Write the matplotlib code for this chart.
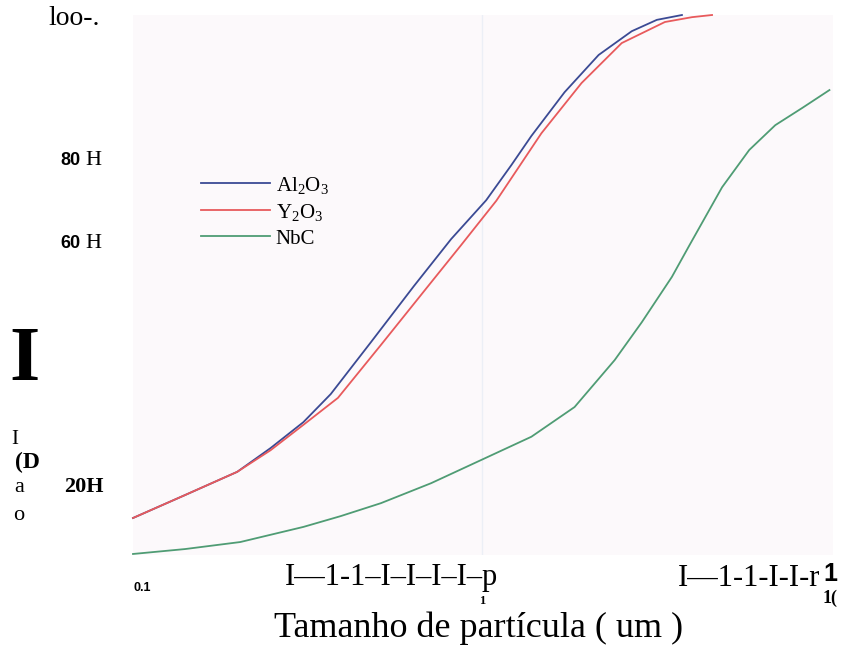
import numpy as np
import matplotlib
matplotlib.use('Agg')
import matplotlib.pyplot as plt
import matplotlib.transforms as mtransforms

# particle size (um) and cumulative percentage
al2o3_x = [0.1, 0.141, 0.199, 0.248, 0.308, 0.369, 0.481, 0.639, 0.817, 1.03,
           1.216, 1.388, 1.728, 2.164, 2.693, 3.178, 3.751]
al2o3_y = [6.85, 11.1, 15.4, 19.8, 24.6, 29.8, 39.4, 49.8, 58.5, 65.7,
           72.2, 77.6, 85.7, 92.6, 97.0, 99.1, 100]

y2o3_x = [0.1, 0.141, 0.199, 0.248, 0.308, 0.387, 0.514, 0.692, 0.873, 1.101,
          1.483, 1.933, 2.520, 3.351, 4.009, 4.576]
y2o3_y = [6.85, 11.1, 15.4, 19.4, 24.1, 29.1, 38.9, 49.3, 57.4, 65.6,
          78.1, 87.4, 94.8, 98.7, 99.6, 100]

nbc_x = [0.1, 0.141, 0.203, 0.308, 0.394, 0.514, 0.716, 0.997, 1.388, 1.846,
         2.406, 2.877, 3.510, 3.929, 4.889, 5.849, 6.947, 8.307, 9.934]
nbc_y = [0.19, 1.1, 2.4, 5.2, 7.2, 9.6, 13.3, 17.6, 21.9, 27.4,
         36.1, 43.1, 51.5, 57.2, 68.1, 75.0, 79.6, 82.8, 86.1]

series_names = ['Al$_2$O$_3$', 'Y$_2$O$_3$', 'NbC']
series_colors = ['#3b4a94', '#e85a5c', '#4f9c74']

ytick_vals = [100, 73, 57.6, 12.6]
ytick_nums = ['', '80', '60', '']
ytick_tail = ['loo-.', 'H', 'H', '20H']

plt.rcParams['font.family'] = ['Liberation Serif', 'DejaVu Serif']
plt.rcParams['mathtext.fontset'] = 'custom'
plt.rcParams['mathtext.rm'] = 'Liberation Serif'
plt.rcParams['mathtext.it'] = 'Liberation Serif'

fig = plt.figure(figsize=(8.45, 6.51), dpi=100)
W, H = 845, 651
ax = fig.add_axes([133 / W, (H - 555) / H, 700 / W, 540 / H])
ax.set_facecolor('#fcf9fb')

ax.axvline(1, color='#eceff6', lw=1.0, zorder=0)

for xs, ys, name, c in zip([al2o3_x, y2o3_x, nbc_x], [al2o3_y, y2o3_y, nbc_y],
                           series_names, series_colors):
    ax.plot(xs, ys, color=c, lw=1.3, label=name, clip_on=False,
            solid_joinstyle='round')

ax.set_xscale('log')
ax.set_xlim(0.1, 10.17)
ax.set_ylim(0, 100)
ax.set_xticks([])
ax.set_yticks([])
ax.minorticks_off()
for s in ax.spines.values():
    s.set_visible(False)

leg = ax.legend(loc='upper left', bbox_to_anchor=(0.085, 0.72), frameon=False,
                fontsize=15, handlelength=3.3, handletextpad=0.3, labelspacing=0.3,
                borderaxespad=0)

# y tick labels (as printed in the scan)
ytr = mtransforms.blended_transform_factory(fig.transFigure, ax.transData)
for v, num, tail in zip(ytick_vals, ytick_nums, ytick_tail):
    if num:
        fig.text(81 / W, v, num, transform=ytr, fontsize=13, fontweight='bold',
                 family='Liberation Sans', ha='right', va='center')
        fig.text(85 / W, v, tail, transform=ytr, fontsize=16, ha='left', va='center')
    elif v > 50:
        fig.text(48 / W, v - 0.6, tail, transform=ytr, fontsize=20, ha='left', va='center')
    else:
        fig.text(104 / W, v, tail, transform=ytr, fontsize=16, fontweight='bold',
                 ha='right', va='center')

# garbled y label
fig.text(25 / W, 1 - 362 / H, 'I', fontsize=56, fontweight='bold', ha='center', va='center')
fig.text(15 / W, 1 - 440 / H, 'I', fontsize=15, ha='center', va='center')
fig.text(27 / W, 1 - 462 / H, '(D', fontsize=17, fontweight='bold', ha='center', va='center')
fig.text(19 / W, 1 - 487 / H, 'a', fontsize=16, ha='center', va='center')
fig.text(19 / W, 1 - 516 / H, 'o', fontsize=16, ha='center', va='center')

# x axis labels
xtr = mtransforms.blended_transform_factory(ax.transData, fig.transFigure)
fig.text(0.1, 1 - 588 / H, '0.1', transform=xtr, fontsize=9, fontweight='bold',
         family='Liberation Sans', ha='left', va='center')
fig.text(1.0, 1 - 601 / H, '1', transform=xtr, fontsize=9, fontweight='bold', ha='center', va='center')
fig.text(10, 1 - 598 / H, '1(', transform=xtr, fontsize=13, fontweight='bold', ha='center', va='center')
fig.text(285 / W, 1 - 578 / H, 'I\u20141-1\u2013I\u2013I\u2013I\u2013I\u2013p', fontsize=22,
         ha='left', va='center')
fig.text(678 / W, 1 - 578 / H, 'I\u20141-1-I-I-r', fontsize=22, ha='left', va='center')
fig.text(837 / W, 1 - 574 / H, '1', fontsize=18, fontweight='bold', family='Liberation Sans',
         ha='right', va='center')

fig.text(479 / W, 1 - 628 / H, 'Tamanho de part\u00edcula ( um )', fontsize=26,
         ha='center', va='center')

fig.savefig('out.png', dpi=100)
